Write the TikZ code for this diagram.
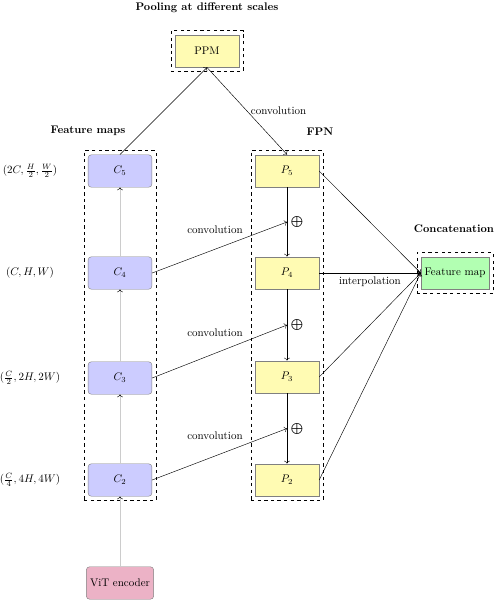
\documentclass[tikz,border=0pt]{standalone}
\usepackage{amsmath}
\usepackage{amssymb}
\usetikzlibrary{arrows.meta}
\usetikzlibrary{fit}

\begin{document}
\begin{tikzpicture}[x=0.908pt, y=-0.908pt,
  cmap/.style={draw=gray, fill=blue!20, rounded corners=3pt, minimum width=58pt, minimum height=29.5pt},
  pmap/.style={draw=gray, fill=yellow!30, minimum width=58pt, minimum height=29.5pt},
  group/.style={draw, dashed, inner sep=3.5pt},
  title/.style={font=\bfseries},
  up/.style={gray!40, -{To[black]}}]
\useasboundingbox (0,0) rectangle (496,600);
\node[title] (pool) at (207,8) {Pooling at different scales};
\node[pmap] (ppm) at (207,51) {PPM};
\node[group, fit=(ppm)] (ppmbox) {};
\node[title] (fmaps) at (88,131) {Feature maps};
\node[title] (fpn) at (320,132) {FPN};
\node[title] (concat) at (454,229) {Concatenation};
\node[cmap] (c5) at (120,171) {$C_5$};
\node[cmap] (c4) at (120,273) {$C_4$};
\node[cmap] (c3) at (120,378) {$C_3$};
\node[cmap] (c2) at (120,480) {$C_2$};
\node[group, fit=(c5) (c2)] (cbox) {};
\node[cmap, fill=purple!30] (vit) at (120,583) {ViT encoder};
\node[pmap] (p5) at (287,171) {$P_5$};
\node[pmap] (p4) at (287,273) {$P_4$};
\node[pmap] (p3) at (287,377) {$P_3$};
\node[pmap] (p2) at (287,480) {$P_2$};
\node[group, fit=(p5) (p2)] (pbox) {};
\node[pmap, fill=green!30] (fm) at (455,273) {Feature map};
\node[group, fit=(fm)] (fmbox) {};
\node (d5) at (30,171) {$(2C,\frac{H}{2},\frac{W}{2})$};
\node (d4) at (30,273) {$(C,H,W)$};
\node (d3) at (30,378) {$(\frac{C}{2},2H,2W)$};
\node (d2) at (30,480) {$(\frac{C}{4},4H,4W)$};
\draw[up] (vit) -- (c2);
\draw[up] (c2) -- (c3);
\draw[up] (c3) -- (c4);
\draw[up] (c4) -- (c5);
\draw[->] (c5.north) -- (ppm.south);
\draw[->] (ppm.south) -- node[midway, right] {convolution} (p5.north);
\draw[->] (p5) -- coordinate[midway] (s4) (p4);
\draw[->] (p4) -- coordinate[midway] (s3) (p3);
\draw[->] (p3) -- coordinate[midway] (s2) (p2);
\node[right] (plus4) at (s4) {$\bigoplus$};
\node[right] (plus3) at (s3) {$\bigoplus$};
\node[right] (plus2) at (s2) {$\bigoplus$};
\draw[->] (c4.east) -- node[pos=0.7, above left] {convolution} (s4);
\draw[->] (c3.east) -- node[pos=0.7, above left] {convolution} (s3);
\draw[->] (c2.east) -- node[pos=0.7, above left] {convolution} (s2);
\draw[->] (p5.east) -- (fm.west);
\draw[->, thick] (p4.east) -- node[midway, below] {interpolation} (fm.west);
\draw[->] (p3.east) -- (fm.west);
\draw[->] (p2.east) -- (fm.west);
\end{tikzpicture}
\end{document}
